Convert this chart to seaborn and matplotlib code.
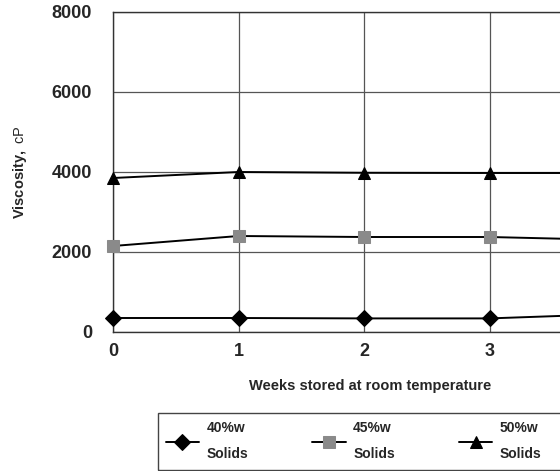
import numpy as np
import pandas as pd
import matplotlib
matplotlib.use("Agg")
import matplotlib.pyplot as plt
from matplotlib.patches import Rectangle
import seaborn as sns

# Values
weeks = [0, 1, 2, 3, 4]
solids_40 = [350, 350, 340, 340, 450]
solids_45 = [2150, 2400, 2375, 2375, 2300]
solids_50 = [3850, 4000, 3980, 3975, 3975]
series_labels = ["40%w\nSolids", "45%w\nSolids", "50%w\nSolids"]
y_ticks = [0, 2000, 4000, 6000, 8000]
x_ticks = [0, 1, 2, 3]

df = pd.DataFrame({
    "week": weeks * 3,
    "viscosity": solids_40 + solids_45 + solids_50,
    "series": np.repeat(series_labels, len(weeks)),
})

sns.set_style("white")
plt.rcParams["font.family"] = ["Liberation Sans", "DejaVu Sans"]
plt.rcParams["mathtext.fontset"] = "custom"
plt.rcParams["mathtext.bf"] = "Liberation Sans:bold"
plt.rcParams["mathtext.rm"] = "Liberation Sans"

W, H = 560, 471
fig = plt.figure(figsize=(5.6, 4.71), dpi=100)
ax = fig.add_axes([113 / W, 1 - 332 / H, 1 - 113 / W, (332 - 12) / H])

styles = {
    series_labels[0]: dict(marker="D", markersize=8, markerfacecolor="black", markeredgecolor="black"),
    series_labels[1]: dict(marker="s", markersize=9, markerfacecolor="#8a8a8a", markeredgecolor="#8a8a8a"),
    series_labels[2]: dict(marker="^", markersize=9, markerfacecolor="black", markeredgecolor="black"),
}

for name in series_labels:
    sub = df[df["series"] == name]
    sns.lineplot(data=sub, x="week", y="viscosity", color="black", linewidth=1.4,
                 label=name, ax=ax, clip_on=False, zorder=3, **styles[name])

# the scan is cropped on the right, so the axis stops part way to week 4
ax.set_xlim(0, 3.56)
ax.set_ylim(0, 8000)
ax.set_xticks(x_ticks)
ax.set_yticks(y_ticks)
ax.grid(True, color="#555555", linewidth=0.9)
ax.set_axisbelow(True)
for side in ["left", "bottom", "top"]:
    ax.spines[side].set_color("#333333")
    ax.spines[side].set_linewidth(1.0)
ax.spines["right"].set_visible(False)
ax.tick_params(axis="both", length=0, labelsize=13)
ax.tick_params(axis="y", pad=15)
ax.tick_params(axis="x", pad=8)
for lab in ax.get_xticklabels() + ax.get_yticklabels():
    lab.set_fontweight("bold")

ax.set_xlabel("Weeks stored at room temperature", fontsize=10.5, fontweight="bold")
ax.xaxis.set_label_coords((370 - 113) / 447, -(379 - 332) / 320)
ax.set_ylabel(r"$\bf{Viscosity,}$ cP", fontsize=10.5)
ax.yaxis.set_label_coords(-(113 - 29) / 447, 0.5)

handles, labels = ax.get_legend_handles_labels()
ax.get_legend().remove()
leg = fig.legend(handles, labels, loc="upper left", ncol=3,
                 bbox_to_anchor=(158 / W, 1 - 413 / H),
                 frameon=False, prop={"size": 10, "weight": "bold"},
                 handlelength=2.4, handletextpad=0.55, columnspacing=4.6,
                 borderaxespad=0, borderpad=0.55)
for t in leg.get_texts():
    t.set_linespacing(2.15)

# legend box, also cut by the crop on the right
fig.patches.append(Rectangle((158 / W, 1 - 470 / H), (590 - 158) / W, 57 / H,
                             transform=fig.transFigure, fill=False,
                             edgecolor="#444444", linewidth=1.0, figure=fig))

fig.savefig("out.png", dpi=100)
